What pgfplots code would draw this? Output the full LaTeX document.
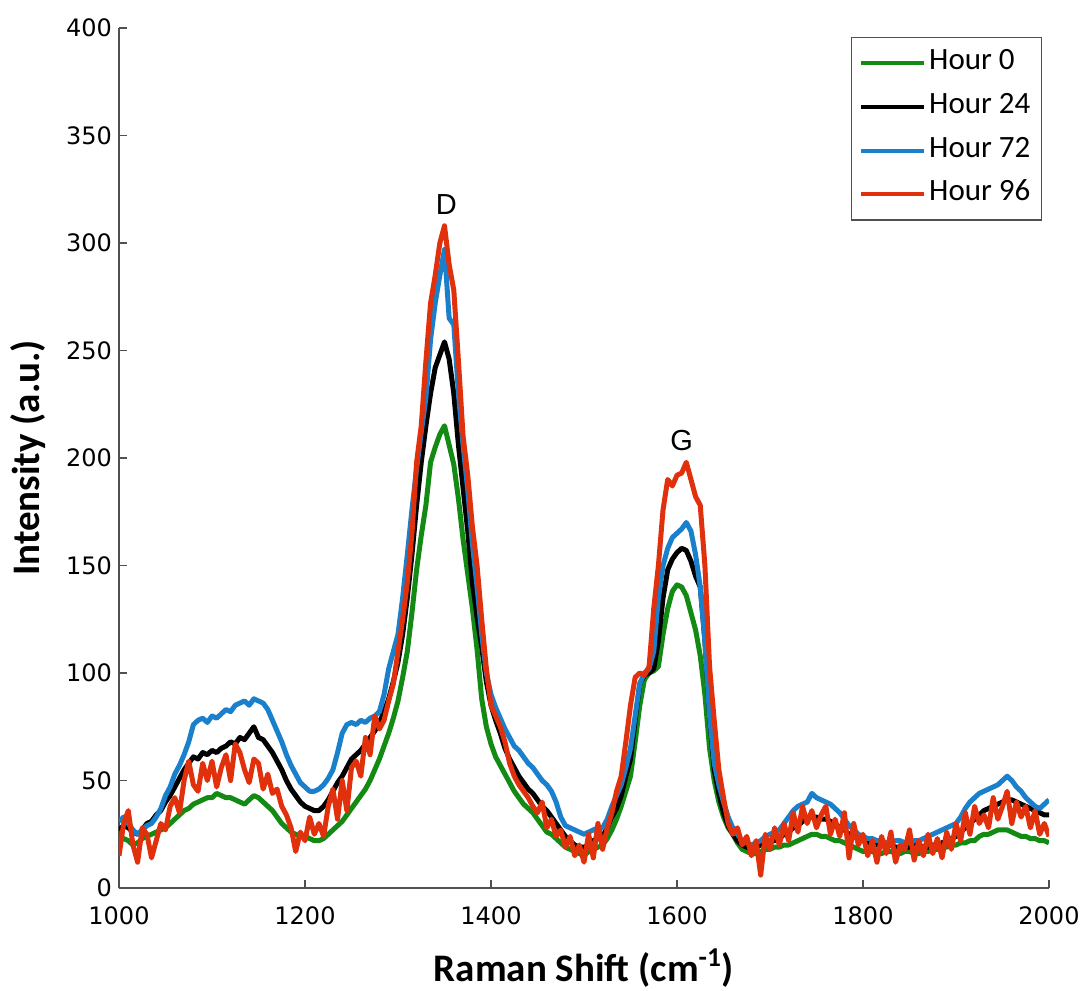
\documentclass[border=0pt]{standalone}
\usepackage{pgfplots}
\pgfplotsset{compat=1.18}
\usepackage{pgfplotstable}
\usepackage{fontspec}
\setmainfont{Carlito}
\newfontfamily\dejavu{DejaVu Sans}
\newfontfamily\libsans{Liberation Sans}
\definecolor{cgreen}{HTML}{138A13}
\definecolor{cblue}{HTML}{1A80CC}
\definecolor{cred}{HTML}{E0300C}
\definecolor{caxis}{HTML}{505050}

\pgfplotstableread{
x g0 g24 g72 g96
1000 24 27 31 15
1005 23 29 33 30
1010 22 28 30 36
1015 20 26 27 20
1020 21 25 25 12
1025 23 27 27 28
1030 24 30 29 25
1035 25 31 30 14
1040 26 34 33 22
1045 27 36 37 30
1050 28 40 43 27
1055 30 43 47 38
1060 32 47 53 42
1065 34 51 57 35
1070 36 55 62 50
1075 37 58 68 59
1080 39 61 76 48
1085 40 60 78 45
1090 41 63 79 58
1095 42 62 77 50
1100 42 64 80 59
1105 44 63 79 47
1110 43 65 81 56
1115 42 66 83 62
1120 42 68 82 50
1125 41 67 85 67
1130 40 70 86 63
1135 39 69 87 55
1140 41 72 85 49
1145 43 75 88 60
1150 42 70 87 58
1155 40 69 86 46
1160 38 66 83 53
1165 36 63 78 44
1170 33 59 73 46
1175 30 55 68 38
1180 28 50 62 34
1185 26 46 57 28
1190 25 43 53 17
1195 24 40 49 26
1200 24 38 47 22
1205 23 37 45 33
1210 22 36 45 25
1215 22 36 46 30
1220 23 38 48 24
1225 25 41 51 38
1230 27 45 55 46
1235 29 49 63 32
1240 31 52 72 50
1245 34 56 76 36
1250 37 60 77 56
1255 40 62 76 59
1260 43 64 78 52
1265 46 67 77 70
1270 50 70 79 62
1275 55 73 80 80
1280 60 77 82 74
1285 66 82 90 78
1290 72 88 102 87
1295 79 96 110 95
1300 87 105 118 110
1305 98 118 135 125
1310 110 135 155 142
1315 128 155 176 165
1320 148 178 195 198
1325 164 198 212 215
1330 178 215 228 245
1335 198 230 255 272
1340 205 242 272 285
1345 211 248 285 300
1350 215 254 297 308
1355 206 246 265 290
1360 197 230 262 278
1365 181 206 230 245
1370 162 186 206 210
1375 146 166 185 192
1380 130 142 160 168
1385 111 126 140 150
1390 88 112 118 125
1395 75 96 100 102
1400 67 85 90 85
1405 61 78 84 80
1410 57 72 79 75
1415 53 65 74 68
1420 49 60 70 58
1425 45 56 66 52
1430 42 52 64 48
1435 39 49 61 45
1440 37 46 58 42
1445 35 44 56 38
1450 32 41 53 35
1455 29 38 50 40
1460 26 36 48 28
1465 25 33 45 32
1470 23 30 40 24
1475 21 27 33 27
1480 19 24 29 19
1485 18 22 28 24
1490 17 20 27 15
1495 16 19 26 20
1500 15 19 25 12
1505 17 20 26 25
1510 18 22 27 14
1515 19 23 28 30
1520 20 24 28 18
1525 23 28 32 28
1530 27 33 38 35
1535 32 37 43 45
1540 38 43 48 52
1545 45 52 56 68
1550 52 60 65 85
1555 68 78 80 98
1560 85 95 95 100
1565 97 99 100 99
1570 100 100 102 103
1575 101 102 110 130
1580 103 115 135 150
1585 118 135 150 176
1590 130 148 158 190
1595 138 153 163 187
1600 141 156 165 192
1605 140 158 167 193
1610 136 157 170 198
1615 128 152 166 190
1620 120 145 155 182
1625 108 140 140 178
1630 90 115 115 150
1635 65 80 80 103
1640 50 55 58 78
1645 40 44 48 55
1650 33 35 40 42
1655 28 29 33 30
1660 25 25 28 25
1665 21 22 25 28
1670 18 20 22 20
1675 17 19 21 24
1680 16 18 20 15
1685 16 19 21 22
1690 17 20 22 6
1695 18 21 24 25
1700 18 22 25 18
1705 19 22 26 28
1710 19 23 27 20
1715 20 25 30 30
1720 20 26 33 22
1725 21 28 36 35
1730 22 29 38 26
1735 23 31 39 38
1740 24 32 40 30
1745 25 33 44 36
1750 25 33 42 28
1755 24 32 41 34
1760 24 32 40 38
1765 23 31 39 25
1770 22 30 37 32
1775 22 28 35 24
1780 21 27 32 35
1785 20 25 29 14
1790 19 24 27 30
1795 18 23 25 20
1800 17 22 24 25
1805 17 21 23 15
1810 17 21 23 22
1815 16 20 22 12
1820 16 20 22 24
1825 17 20 21 16
1830 17 20 21 26
1835 16 19 22 12
1840 16 19 22 20
1845 17 19 21 18
1850 17 19 21 27
1855 16 20 22 13
1860 16 20 22 22
1865 17 19 23 15
1870 17 19 24 25
1875 18 20 25 16
1880 18 20 26 23
1885 19 21 27 14
1890 19 22 28 26
1895 20 23 29 18
1900 20 24 30 30
1905 21 26 33 22
1910 21 28 37 35
1915 22 30 40 25
1920 22 32 42 38
1925 24 34 44 30
1930 25 36 45 34
1935 25 37 46 28
1940 26 38 47 42
1945 27 39 48 32
1950 27 40 50 38
1955 27 41 52 45
1960 26 41 50 30
1965 25 40 47 40
1970 24 39 45 33
1975 24 38 42 38
1980 23 37 40 28
1985 23 36 38 36
1990 22 35 37 25
1995 22 34 39 30
2000 21 34 41 24
}\spectra

\begin{document}
\begin{tikzpicture}
\begin{axis}[
  width=465pt, height=430pt, scale only axis,
  xmin=1000, xmax=2000, ymin=0, ymax=400,
  axis x line*=bottom, axis y line*=left,
  axis line style={-, caxis, line width=0.8pt},
  xtick={1000,1200,...,2000}, ytick={0,50,...,400},
  tick align=inside, major tick length=4pt,
  tick style={caxis, line width=0.8pt},
  /pgf/number format/assume math mode=true,
  /pgf/number format/1000 sep={},
  scaled ticks=false,
  ticklabel style={font=\dejavu\fontsize{12}{14}\selectfont, text=black},
  xticklabel style={yshift=-6pt},
  xlabel={Raman Shift (cm\textsuperscript{-1})},
  ylabel={Intensity (a.u.)},
  label style={font=\bfseries\fontsize{19.5}{22}\selectfont},
  xlabel style={at={(axis description cs:0.5,-0.1093)}, anchor=base},
  ylabel style={at={(axis description cs:-0.086,0.5)}, anchor=base},
  legend style={at={(rel axis cs:1,1)}, anchor=north east, xshift=-3.5pt, yshift=-4.5pt,
    draw=caxis, line width=0.6pt, font=\fontsize{15.5}{18}\selectfont,
    inner xsep=4pt, inner ysep=4.5pt, row sep=5.4pt,
    nodes={inner sep=1.5pt, text height=10pt, text depth=3.5pt}},
  legend cell align=left,
  legend image code/.code={\draw[#1, line width=2pt] (0pt,0pt) -- (31.5pt,0pt);},
]
\addplot[cgreen, line width=2.5pt, line join=round] table[x=x, y=g0]{\spectra};
\addlegendentry{Hour 0}
\addplot[black, line width=2.5pt, line join=round] table[x=x, y=g24]{\spectra};
\addlegendentry{Hour 24}
\addplot[cblue, line width=2.5pt, line join=round] table[x=x, y=g72]{\spectra};
\addlegendentry{Hour 72}
\addplot[cred, line width=2.5pt, line join=round] table[x=x, y=g96]{\spectra};
\addlegendentry{Hour 96}
\node[font=\libsans\fontsize{14.5}{16}\selectfont] at (axis cs:1352,318) {D};
\node[font=\libsans\fontsize{14.5}{16}\selectfont] at (axis cs:1605,208) {G};
\end{axis}
\pgfresetboundingbox
\path[use as bounding box] (-59.5pt,-51pt) rectangle (483.5pt,444pt);
\end{tikzpicture}
\end{document}
